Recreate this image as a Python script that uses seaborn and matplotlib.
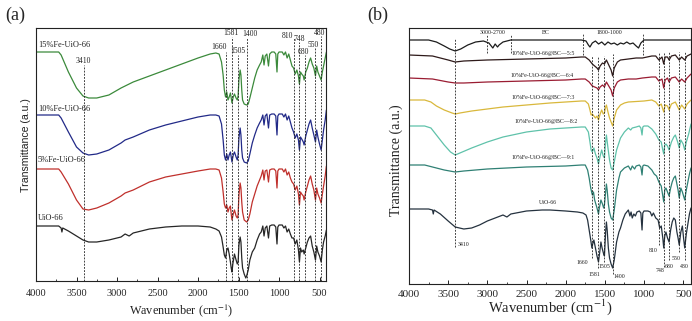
import numpy as np
import pandas as pd
import matplotlib
matplotlib.use("Agg")
import matplotlib.pyplot as plt
from matplotlib.ticker import MultipleLocator
import seaborn as sns

sns.set_style("ticks")
plt.rcParams["font.family"] = ["Liberation Serif", "DejaVu Serif"]
plt.rcParams["mathtext.fontset"] = "stix"

# ---------------- FTIR data, panel (a) ----------------
# wavenumber (cm-1) and transmittance (a.u., stacked)
fe15_wn = [4000, 3720, 3690, 3600, 3500, 3420, 3350, 3250, 3100, 2950, 2900, 2800, 2600, 2400, 2200, 2000,
           1850, 1780, 1740, 1710, 1690, 1675, 1660, 1645, 1630, 1615, 1600, 1590, 1581, 1565, 1550, 1530,
           1515, 1505, 1495, 1480, 1470, 1460, 1450, 1430, 1400, 1380, 1360, 1330, 1300, 1270, 1240, 1220,
           1200, 1185, 1170, 1150, 1130, 1115, 1090, 1060, 1040, 1025, 1015, 1000, 960, 940, 920, 900, 880,
           860, 840, 820, 800, 780, 760, 748, 735, 720, 700, 690, 670, 650, 630, 610, 590, 570, 550, 535,
           520, 500, 480, 465, 450, 430, 415]
fe15_t = [248, 248, 245, 228, 212, 204, 202, 202, 205, 212, 214, 218, 224, 230, 236, 242,
          246, 247, 246, 238, 225, 210, 203, 208, 200, 203, 207, 202, 197, 203, 206, 202,
          200, 204, 220, 230, 225, 210, 200, 196, 195, 196, 202, 212, 222, 230, 235, 238,
          245, 235, 244, 246, 234, 246, 248, 248, 246, 228, 246, 248, 248, 245, 248, 242, 246,
          240, 234, 232, 226, 230, 224, 216, 228, 226, 224, 220, 228, 232, 238, 242, 236, 232, 224, 234,
          228, 224, 220, 228, 234, 242, 248]

fe10_wn = fe15_wn
fe10_t = [185, 185, 182, 168, 153, 147, 145, 146, 150, 157, 160, 163, 170, 175, 179, 183,
          185, 185, 184, 176, 160, 145, 140, 146, 140, 145, 148, 143, 138, 145, 148, 143,
          140, 145, 162, 172, 165, 150, 142, 138, 137, 139, 146, 157, 165, 172, 177, 180,
          185, 175, 184, 186, 172, 185, 186, 186, 184, 165, 184, 186, 186, 183, 186, 180, 184,
          178, 172, 168, 162, 166, 160, 150, 163, 161, 158, 155, 164, 170, 176, 180, 172, 165, 158, 170,
          163, 156, 150, 160, 170, 180, 190]

fe5_wn = fe15_wn
fe5_t = [131, 131, 128, 116, 100, 91, 90, 92, 97, 104, 107, 110, 118, 123, 126, 129,
         131, 131, 130, 122, 108, 96, 92, 95, 88, 92, 94, 86, 80, 86, 90, 84,
         82, 85, 105, 117, 112, 98, 88, 80, 78, 80, 86, 98, 106, 114, 120, 124,
         130, 120, 129, 130, 118, 130, 131, 131, 129, 112, 129, 131, 131, 128, 131, 125, 128,
         122, 118, 116, 110, 114, 106, 95, 108, 106, 104, 100, 108, 114, 120, 124, 116, 110, 100, 112,
         106, 102, 97, 106, 114, 124, 134]

uio_a_wn = [4000, 3720, 3690, 3680, 3670, 3600, 3500, 3420, 3350, 3250, 3100, 2950, 2900, 2850, 2800, 2600,
            2400, 2200, 2000, 1850, 1780, 1740, 1710, 1690, 1675, 1660, 1645, 1630, 1615, 1600, 1590, 1581,
            1570, 1550, 1530, 1515, 1505, 1495, 1480, 1470, 1460, 1450, 1430, 1410, 1400, 1380, 1360, 1330,
            1300, 1270, 1240, 1220, 1200, 1185, 1170, 1150, 1130, 1115, 1090, 1060, 1040, 1025, 1015, 1000,
            960, 940, 920, 900, 880, 860, 840, 820, 800, 780, 760, 748, 735, 720, 700, 690, 670, 650, 630,
            610, 590, 570, 550, 535, 520, 500, 480, 465, 450, 430, 415]
uio_a_t = [74, 74, 72, 68, 72, 69, 64, 60, 58, 58, 60, 63, 66, 64, 67, 71,
           73, 74, 74, 73, 71, 69, 63, 53, 45, 42, 50, 52, 46, 38, 32, 28,
           36, 46, 40, 36, 38, 55, 63, 58, 42, 32, 26, 22, 24, 30, 40, 48,
           52, 60, 66, 68, 74, 64, 72, 74, 62, 74, 75, 75, 73, 56, 73, 75,
           75, 72, 74, 68, 71, 66, 62, 62, 56, 60, 50, 38, 52, 48, 50, 46, 52, 58, 62,
           64, 54, 48, 40, 54, 48, 44, 38, 50, 58, 64, 70]

names_a = ["15%Fe-UiO-66", "10%Fe-UiO-66", "5%Fe-UiO-66", "UiO-66"]
colors_a = ["#3b8a3b", "#222a88", "#c0302c", "#262626"]

# ---------------- FTIR data, panel (b) ----------------
bc_wn = [4000, 3750, 3650, 3550, 3480, 3410, 3340, 3250, 3150, 3050, 2980, 2930, 2900, 2870, 2850, 2800,
         2700, 2400, 2000, 1800, 1740, 1710, 1690, 1660, 1620, 1580, 1540, 1500, 1460, 1420, 1380, 1340,
         1300, 1260, 1220, 1180, 1140, 1100, 1070, 1040, 1000, 800, 600, 400]
bc_t = [260, 260, 258, 254, 251, 249, 251, 255, 258, 259, 257, 252, 256, 253, 255, 258,
        260, 260, 260, 260, 259, 255, 253, 257, 259, 256, 258, 255, 258, 256, 257, 255,
        257, 256, 258, 256, 257, 254, 252, 257, 260, 260, 260, 260]

c55_wn = [4000, 3700, 3500, 3410, 3300, 3000, 2500, 2000, 1800, 1750, 1700, 1660, 1630, 1600, 1581, 1560,
          1530, 1505, 1480, 1450, 1420, 1400, 1380, 1340, 1300, 1200, 1100, 1020, 900, 850, 810, 770, 748,
          730, 700, 680, 650, 600, 550, 520, 480, 450, 400]
c55_t = [245, 244, 240, 238, 239, 240, 241, 242, 243, 243, 240, 236, 234, 232, 230, 234,
         237, 236, 240, 235, 230, 224, 232, 238, 240, 241, 242, 242, 244, 244, 240, 243, 236,
         243, 243, 240, 244, 245, 240, 243, 240, 244, 246]

c64_wn = c55_wn
c64_t = [222, 221, 218, 217, 217, 218, 219, 220, 221, 221, 218, 214, 213, 212, 210, 213,
         215, 213, 218, 214, 210, 204, 212, 218, 220, 221, 221, 222, 223, 223, 219, 221, 212,
         220, 222, 218, 222, 223, 218, 221, 218, 222, 226]

c73_wn = [4000, 3800, 3720, 3650, 3550, 3450, 3410, 3350, 3200, 3000, 2800, 2500, 2200, 2000, 1800, 1750,
          1710, 1690, 1675, 1660, 1640, 1620, 1600, 1581, 1560, 1540, 1520, 1505, 1490, 1480, 1460, 1440,
          1420, 1400, 1380, 1350, 1300, 1250, 1200, 1000, 900, 850, 810, 780, 748, 730, 700, 680, 650, 600,
          550, 520, 480, 450, 400]
c73_t = [200, 200, 198, 194, 190, 187, 186, 187, 189, 191, 193, 195, 197, 198, 199, 199,
         196, 190, 185, 186, 184, 182, 184, 180, 186, 190, 186, 187, 193, 195, 188, 182,
         178, 174, 182, 190, 195, 197, 198, 199, 200, 198, 194, 196, 188, 195, 194, 190, 196, 198,
         190, 195, 191, 196, 200]

c82_wn = [4000, 3800, 3720, 3650, 3550, 3470, 3410, 3350, 3200, 3000, 2800, 2500, 2200, 2000, 1800, 1750,
          1710, 1690, 1675, 1660, 1640, 1620, 1600, 1581, 1560, 1540, 1520, 1505, 1490, 1480, 1460, 1440,
          1420, 1400, 1380, 1350, 1300, 1250, 1200, 1170, 1150, 1100, 1060, 1040, 1025, 1015, 1000, 950,
          900, 850, 810, 780, 760, 748, 735, 720, 700, 680, 650, 620, 600, 570, 550, 530, 500, 480, 460,
          430, 400]
c82_t = [174, 174, 172, 165, 155, 148, 145, 147, 152, 158, 163, 168, 171, 172, 173, 173,
         168, 158, 150, 148, 152, 146, 142, 136, 144, 150, 144, 142, 158, 165, 152, 140,
         132, 130, 138, 150, 162, 168, 172, 170, 172, 173, 174, 172, 165, 173, 174, 174,
         171, 166, 160, 158, 150, 146, 155, 156, 154, 150, 158, 163, 165, 158, 152, 160, 156, 150, 158,
         166, 176]

c91_wn = [4000, 3800, 3700, 3550, 3410, 3300, 3000, 2500, 2000, 1800, 1750, 1720, 1700, 1680, 1660, 1645,
          1630, 1615, 1600, 1581, 1570, 1550, 1530, 1515, 1505, 1490, 1480, 1470, 1455, 1440, 1420, 1400,
          1380, 1350, 1320, 1300, 1250, 1200, 1170, 1150, 1120, 1100, 1060, 1040, 1025, 1015, 1000, 950,
          900, 870, 840, 810, 780, 760, 748, 735, 720, 700, 680, 660, 640, 620, 600, 580, 565, 550, 530,
          510, 495, 480, 460, 440, 420, 400]
c91_t = [135, 135, 133, 130, 128, 129, 131, 133, 134, 135, 135, 130, 122, 112, 105, 108,
         100, 96, 92, 86, 92, 100, 96, 92, 95, 108, 116, 110, 96, 88, 82, 80,
         90, 110, 122, 128, 132, 134, 130, 134, 131, 134, 135, 133, 125, 134, 135, 134,
         130, 126, 124, 118, 114, 104, 98, 110, 112, 108, 104, 112, 118, 122, 124, 116, 110, 102, 112,
         108, 104, 100, 110, 118, 126, 132]

uio_b_wn = [4000, 3750, 3700, 3690, 3680, 3600, 3500, 3410, 3300, 3200, 3100, 3000, 2900, 2800, 2750, 2700,
            2500, 2300, 2200, 2000, 1850, 1780, 1740, 1720, 1700, 1680, 1665, 1655, 1640, 1620, 1600, 1581,
            1565, 1550, 1535, 1515, 1505, 1490, 1480, 1470, 1455, 1440, 1420, 1400, 1380, 1350, 1320, 1300,
            1270, 1240, 1220, 1200, 1180, 1165, 1150, 1130, 1110, 1090, 1060, 1040, 1025, 1015, 1000, 950,
            920, 900, 880, 850, 820, 800, 780, 760, 748, 735, 720, 700, 680, 660, 640, 620, 600, 580, 565,
            550, 530, 510, 495, 480, 460, 440, 420, 400]
uio_b_t = [91, 91, 90, 86, 90, 86, 79, 73, 71, 72, 75, 79, 82, 85, 83, 86,
           89, 90, 90, 89, 88, 87, 85, 80, 70, 60, 52, 56, 60, 52, 44, 38,
           48, 58, 52, 46, 44, 68, 78, 70, 52, 42, 36, 32, 40, 58, 68, 72,
           80, 86, 88, 90, 84, 88, 82, 86, 84, 88, 89, 87, 70, 87, 89, 89,
           88, 84, 87, 82, 80, 72, 74, 62, 52, 64, 68, 62, 58, 70, 78, 82, 80, 68, 62,
           55, 68, 74, 62, 52, 66, 76, 86, 92]

names_b = ["BC", "5:5", "6:4", "7:3", "8:2", "9:1", "UiO-66"]
colors_b = ["#1c1c1c", "#2e1a1a", "#9a1c32", "#d9b83c", "#5fc2aa", "#2f8074", "#25323f"]

peaks_a = [1660, 1581, 1505, 1400, 810, 748, 680, 550, 480]
peaks_b = peaks_a


def frame(series):
    rows = []
    for name, wn, t in series:
        rows.append(pd.DataFrame({"wn": wn, "T": t, "sample": name}))
    return pd.concat(rows, ignore_index=True)


df_a = frame([(names_a[0], fe15_wn, fe15_t), (names_a[1], fe10_wn, fe10_t),
              (names_a[2], fe5_wn, fe5_t), (names_a[3], uio_a_wn, uio_a_t)])
df_b = frame([(names_b[0], bc_wn, bc_t), (names_b[1], c55_wn, c55_t), (names_b[2], c64_wn, c64_t),
              (names_b[3], c73_wn, c73_t), (names_b[4], c82_wn, c82_t), (names_b[5], c91_wn, c91_t),
              (names_b[6], uio_b_wn, uio_b_t)])

fig = plt.figure(figsize=(6.92, 3.21), dpi=100)
ax_a = fig.add_axes([36 / 692, 1 - 281 / 321, 290 / 692, 253 / 321])
ax_b = fig.add_axes([409 / 692, 1 - 284 / 321, 282 / 692, 256 / 321])

dash = (0, (2.2, 1.6))

# ---- panel (a) ----
sns.lineplot(data=df_a, x="wn", y="T", hue="sample", palette=dict(zip(names_a, colors_a)),
             estimator=None, sort=False, legend=False, lw=0.9, ax=ax_a)
ax_a.set_xlim(4000, 420)
ax_a.set_ylim(19, 272)
ax_a.vlines(3410, 19, 235, colors="#222222", linestyles=dash, lw=0.6)
tops_a = [248, 263, 245, 262, 262, 258, 245, 252, 264]
for p, top in zip(peaks_a, tops_a):
    ax_a.vlines(p, 19, top, colors="#222222", linestyles=dash, lw=0.6)
lab_a = [("1660", 1740, 253), ("1581", 1600, 267), ("1505", 1505, 249), ("1400", 1365, 266),
         ("810", 890, 264), ("748", 752, 261), ("680", 698, 248), ("550", 582, 255), ("480", 505, 267)]
for txt, x, y in lab_a:
    ax_a.text(x, y, txt, fontsize=5.5, ha="center", va="center", color="#222222")
ax_a.text(3420, 239, "3410", fontsize=5.5, ha="center", va="center", color="#222222")
for name, y in zip(names_a, [255, 191, 140, 82]):
    ax_a.text(3975, y, name, fontsize=6, ha="left", va="center", color="#222222")

# ---- panel (b) ----
sns.lineplot(data=df_b, x="wn", y="T", hue="sample", palette=dict(zip(names_b, colors_b)),
             estimator=None, sort=False, legend=False, lw=0.9, ax=ax_b)
ax_b.set_xlim(4000, 400)
ax_b.set_ylim(16, 272)
ax_b.vlines(3410, 53, 262, colors="#222222", linestyles=dash, lw=0.6)
for p in [3000, 2700]:
    ax_b.vlines(p, 247, 266, colors="#222222", linestyles=dash, lw=0.6)
for p in [1780, 1010]:
    ax_b.vlines(p, 245, 266, colors="#222222", linestyles=dash, lw=0.6)
bottoms_b = [42, 32, 38, 26, 55, 33, 40, 48, 40]
tops_b = [244, 244, 244, 246, 248, 248, 248, 248, 248]
for p, lo, hi in zip(peaks_b, bottoms_b, tops_b):
    ax_b.vlines(p, lo, hi, colors="#222222", linestyles=dash, lw=0.6)

small = 4.2
ax_b.text(2927, 268, "3000-2700", fontsize=small, ha="center", va="center", color="#222222")
ax_b.text(2250, 267, "BC", fontsize=small, ha="center", va="center", color="#222222")
ax_b.text(1446, 268, "1800-1000", fontsize=small, ha="center", va="center", color="#222222")
mix_labels = [("10%Fe-UiO-66@BC\u20145:5", 2289, 247), ("10%Fe-UiO-66@BC\u20146:4", 2300, 225),
              ("10%Fe-UiO-66@BC\u20147:3", 2289, 203), ("10%Fe-UiO-66@BC\u20148:2", 2250, 178),
              ("10%Fe-UiO-66@BC\u20149:1", 2289, 142), ("UiO-66", 2225, 98)]
for txt, x, y in mix_labels:
    ax_b.text(x, y, txt, fontsize=small, ha="center", va="center", color="#222222")
ax_b.text(3380, 56, "3410", fontsize=small, ha="left", va="center", color="#222222")
lab_b = [("1660", 1790, 37), ("1581", 1637, 26), ("1505", 1510, 33), ("1400", 1318, 23),
         ("810", 884, 49), ("748", 795, 29), ("680", 680, 34), ("550", 590, 42), ("480", 488, 34)]
for txt, x, y in lab_b:
    ax_b.text(x, y, txt, fontsize=small, ha="center", va="center", color="#222222")

# ---- shared axis styling ----
for ax, xs, pad in [(ax_a, 8.8, 6), (ax_b, 10.5, 4)]:
    ax.xaxis.set_major_locator(MultipleLocator(500))
    ax.xaxis.set_minor_locator(MultipleLocator(250))
    ax.set_yticks([])
    ax.tick_params(axis="x", which="major", direction="in", length=3, width=0.7,
                   labelsize=7.5 if ax is ax_a else 8, pad=pad, color="#222222")
    ax.tick_params(axis="x", which="minor", direction="in", length=1.6, width=0.6, color="#222222")
    for s in ax.spines.values():
        s.set_linewidth(0.8)
        s.set_color("#222222")
    ax.set_xlabel("Wavenumber (cm$^{-1}$)", fontsize=xs, color="#222222")

ax_a.set_ylabel("Transmittance (a.u.)", fontsize=7.6, color="#222222",
                family=["Liberation Sans", "DejaVu Sans"])
ax_b.set_ylabel("Transmittance (a.u.)", fontsize=10, color="#222222")

ax_a.xaxis.set_label_coords(0.5, -0.083)
ax_b.xaxis.set_label_coords(0.5, -0.051)
ax_a.yaxis.set_label_coords(-0.017, 0.537)
ax_b.yaxis.set_label_coords(-0.021, 0.485)

fig.text(15 / 692, 1 - 15 / 321, "(a)", fontsize=13, ha="center", va="center")
fig.text(378 / 692, 1 - 15 / 321, "(b)", fontsize=13, ha="center", va="center")

fig.savefig("out.png", dpi=100, facecolor="white")
